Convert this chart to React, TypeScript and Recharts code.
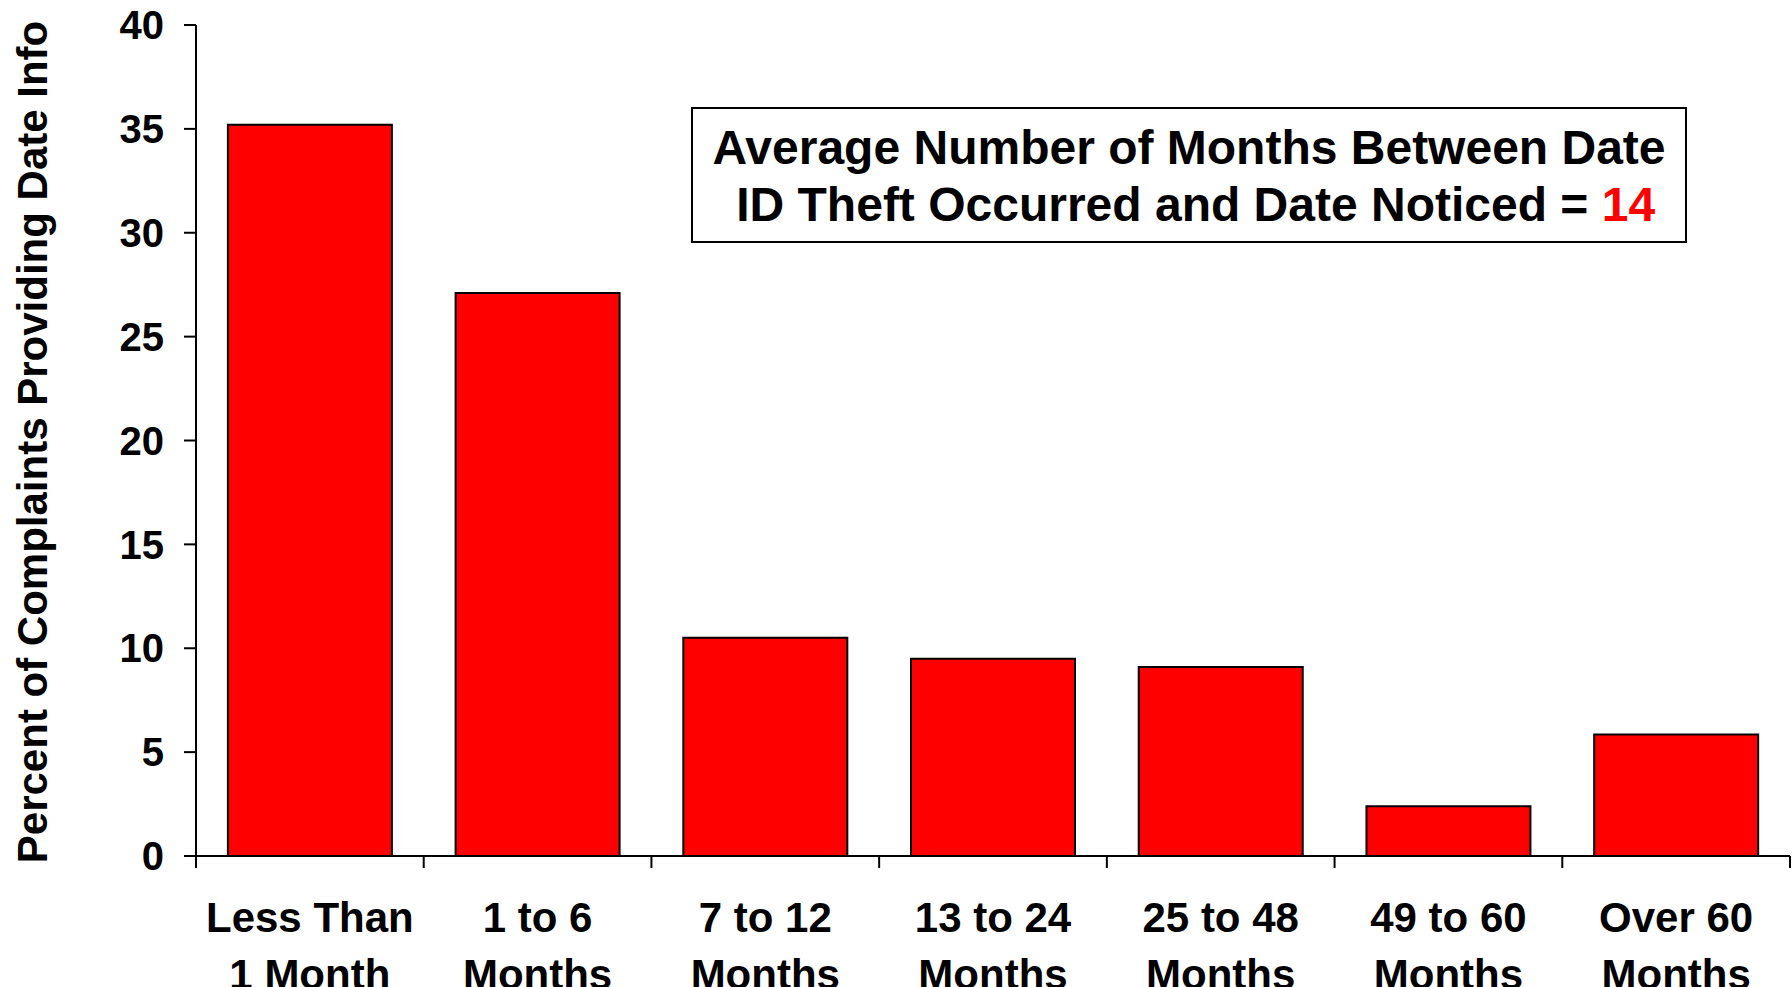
import { BarChart, Bar, XAxis, YAxis } from 'recharts';

const categories = [
  'Less Than\n1 Month',
  '1 to 6\nMonths',
  '7 to 12\nMonths',
  '13 to 24\nMonths',
  '25 to 48\nMonths',
  '49 to 60\nMonths',
  'Over 60\nMonths',
];
const percents = [35.2, 27.1, 10.5, 9.5, 9.1, 2.4, 5.85];
const yTicks = [0, 5, 10, 15, 20, 25, 30, 35, 40];
const yLabel = 'Percent of Complaints Providing Date Info';
const noteLine1 = 'Average Number of Months Between Date';
const noteLine2 = ' ID Theft Occurred and Date Noticed = ';
const averageMonths = 14;

const FONT = '"Liberation Sans", Arial, Helvetica, sans-serif';

const data = categories.map((c, i) => ({ name: c, value: percents[i] }));

function CategoryTick(props: any) {
  const { x, y, payload, index, visibleTicksCount } = props;
  const half = payload.offset ?? 0;
  const [l1, l2] = String(payload.value).split('\n');
  return (
    <g>
      <line x1={x - half} x2={x - half} y1={y} y2={y + 12} stroke="#000" strokeWidth={2} />
      {index === visibleTicksCount - 1 && (
        <line x1={x + half} x2={x + half} y1={y} y2={y + 12} stroke="#000" strokeWidth={2} />
      )}
      <text x={x} y={y} textAnchor="middle" fontSize={42} fontWeight="bold" fill="#000" fontFamily={FONT}>
        <tspan x={x} dy={76}>{l1}</tspan>
        <tspan x={x} dy={57}>{l2}</tspan>
      </text>
    </g>
  );
}

function YTitle() {
  return (
    <text x={47} y={442} transform="rotate(-90, 47, 442)" textAnchor="middle"
      fontSize={42} fontWeight="bold" fill="#000" fontFamily={FONT}>
      {yLabel}
    </text>
  );
}

export default function App() {
  return (
    <div style={{ position: 'absolute', left: 0, top: 0, width: 1792, height: 987, background: '#fff', fontFamily: FONT }}>
      <BarChart width={1792} height={987} data={data} barCategoryGap="14%"
        margin={{ top: 25, right: 2, bottom: 0, left: 0 }}>
        <XAxis dataKey="name" height={131} interval={0} tickLine={false} tickSize={0} tickMargin={0}
          axisLine={{ stroke: '#000', strokeWidth: 2 }} tick={<CategoryTick />} />
        <YAxis width={196} domain={[0, 40]} ticks={yTicks} interval={0} tickSize={12} tickMargin={20}
          axisLine={{ stroke: '#000', strokeWidth: 2 }} tickLine={{ stroke: '#000', strokeWidth: 2 }}
          tick={{ fill: '#000', fontSize: 40, fontWeight: 'bold', fontFamily: FONT }}
          label={<YTitle />} />
        <Bar dataKey="value" fill="#ff0000" stroke="#000" strokeWidth={2} isAnimationActive={false} />
      </BarChart>
      <div style={{
        position: 'absolute', left: 691, top: 107, width: 996, height: 136, boxSizing: 'border-box',
        border: '2px solid #000', background: '#fff', paddingTop: 10, textAlign: 'center',
        fontSize: 48, fontWeight: 'bold', lineHeight: '57px', color: '#000', whiteSpace: 'pre',
      }}>
        <div>{noteLine1}</div>
        <div>{noteLine2}<span style={{ color: '#ff0000' }}>{averageMonths}</span></div>
      </div>
    </div>
  );
}
